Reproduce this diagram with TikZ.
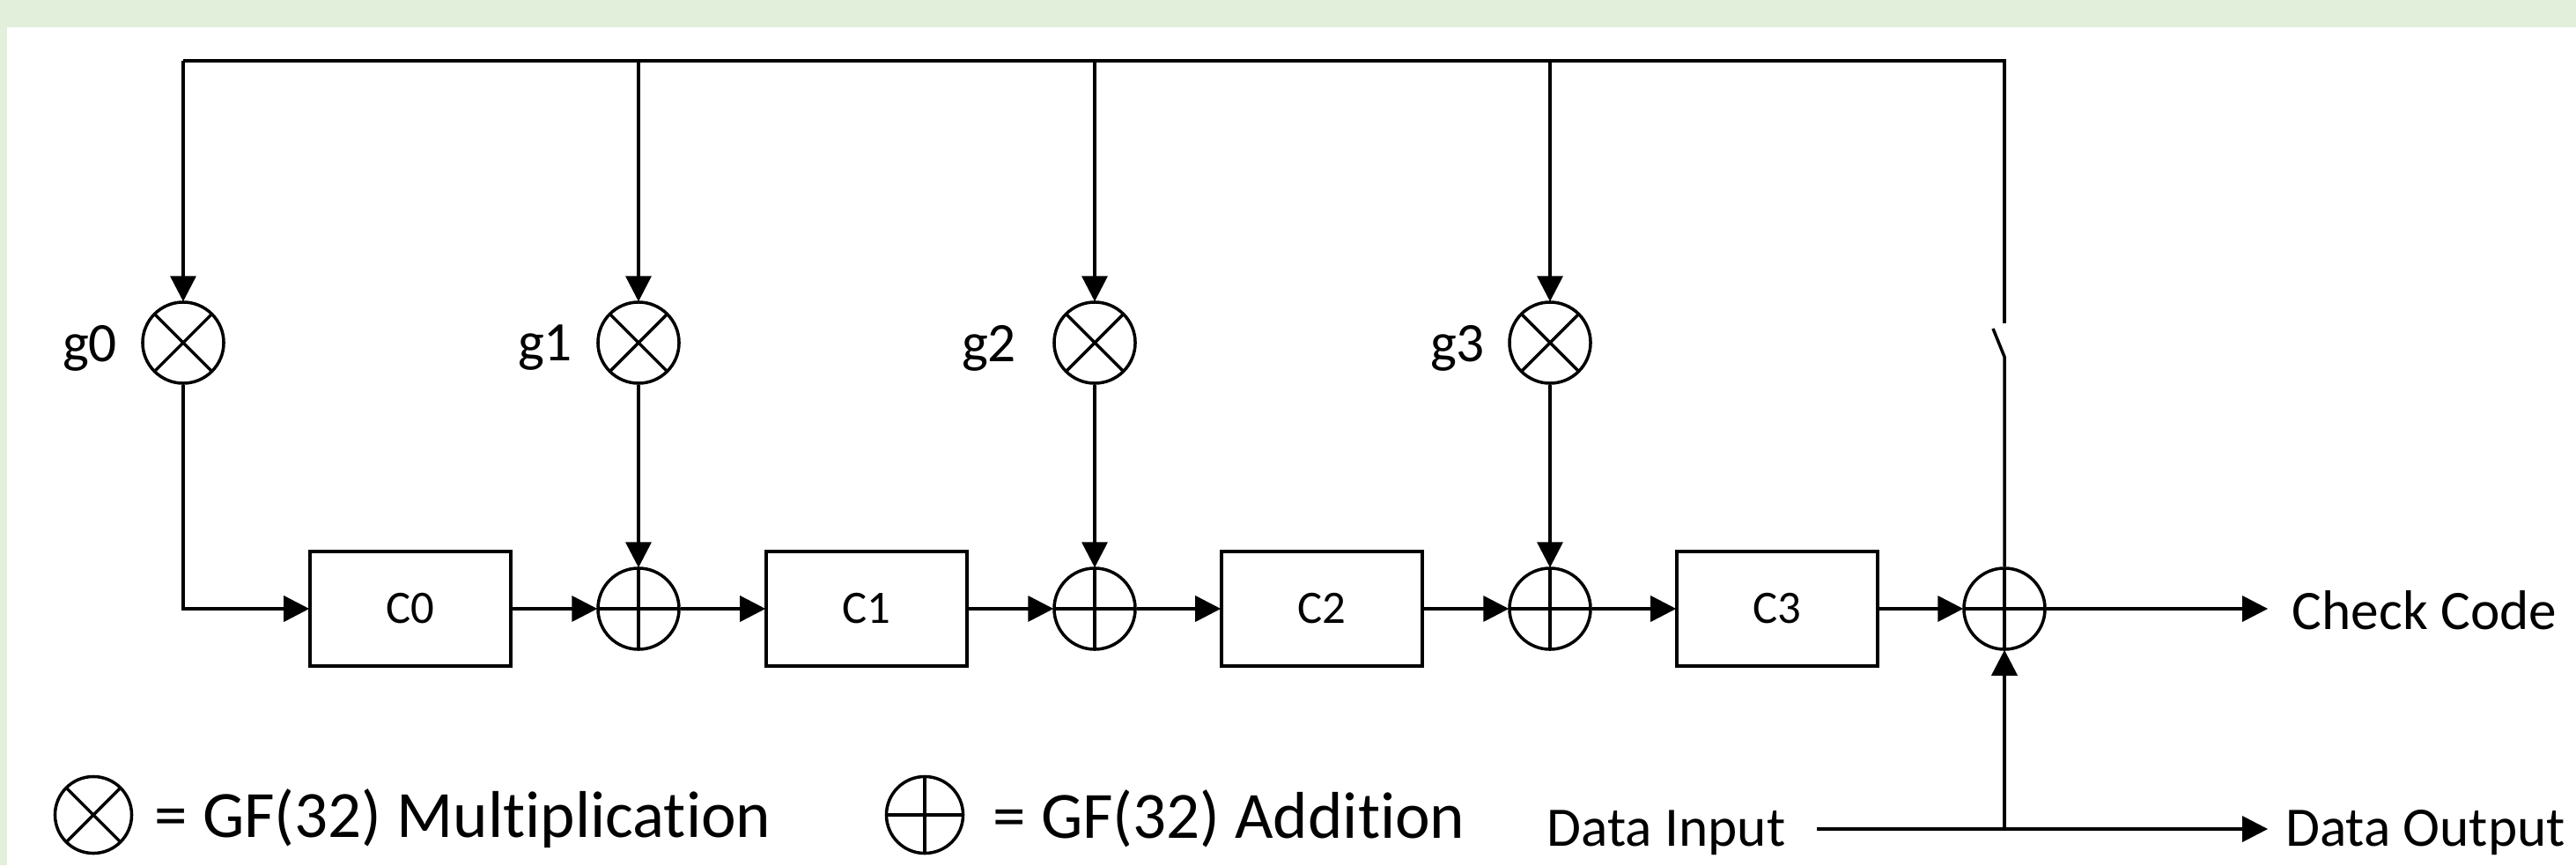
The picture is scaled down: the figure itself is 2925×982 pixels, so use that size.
\documentclass[tikz,border=0pt]{standalone}
\usepackage{fontspec}
\setmainfont[Ligatures={NoCommon}]{Carlito}
\usepackage{xcolor}
\usetikzlibrary{arrows.meta}
\definecolor{pagegreen}{HTML}{E2EFDA}
\tikzset{
    wire/.style={line width=1pt},
    arrowwire/.style={wire, -{Triangle[length=0.29cm, width=0.29cm]}, shorten >=-0.3pt},
    reg/.style={draw, line width=1pt, minimum width=2.28cm, minimum height=1.30cm, inner sep=0pt, font=\fontsize{15}{18}\selectfont},
    mul/.style={circle, draw, line width=1pt, minimum size=0.92cm, inner sep=0pt,
        path picture={\draw[line width=1pt] (path picture bounding box.north west) -- (path picture bounding box.south east)
            (path picture bounding box.north east) -- (path picture bounding box.south west);}},
    add/.style={circle, draw, line width=1pt, minimum size=0.92cm, inner sep=0pt,
        path picture={\draw[line width=1pt] (path picture bounding box.north) -- (path picture bounding box.south)
            (path picture bounding box.east) -- (path picture bounding box.west);}},
    lab/.style={inner sep=0pt, font=\fontsize{18}{22}\selectfont},
    legend/.style={inner sep=0pt, anchor=west, font=\fontsize{21.35}{26}\selectfont},
}

\begin{document}
\begin{tikzpicture}[x=0.01cm, y=-0.01cm]
    \fill[pagegreen] (0,0) rectangle (2925,982);
    \fill[white] (8,31) rectangle (2925,982);
    \useasboundingbox (0,0) rectangle (2925,982);

    \coordinate (top0) at (208,69);
    \coordinate (top1) at (725,69);
    \coordinate (top2) at (1243,69);
    \coordinate (top3) at (1760,69);
    \coordinate (top4) at (2276,69);
    \coordinate (swtop) at (2276,367);
    \coordinate (swblade) at (2263,373);
    \coordinate (swbot) at (2276,405);
    \coordinate (corner) at (208,691);
    \coordinate (tap) at (2276,941);
    \coordinate (instart) at (2063,941);

    \node[mul] (m0) at (208,389) {};
    \node[mul] (m1) at (725,389) {};
    \node[mul] (m2) at (1243,389) {};
    \node[mul] (m3) at (1760,389) {};
    \node[lab] (g0) at (102,395) {g0};
    \node[lab] (g1) at (619,395) {g1};
    \node[lab] (g2) at (1123,395) {g2};
    \node[lab] (g3) at (1655,395) {g3};

    \node[reg] (c0) at (466,691) {C0};
    \node[reg] (c1) at (984,691) {C1};
    \node[reg] (c2) at (1501,691) {C2};
    \node[reg] (c3) at (2018,691) {C3};
    \node[add] (a0) at (725,691) {};
    \node[add] (a1) at (1243,691) {};
    \node[add] (a2) at (1760,691) {};
    \node[add] (a3) at (2276,691) {};

    \node[lab] (check) at (2753,693) {Check Code};
    \node[lab] (din) at (1892,945) {Data Input};
    \node[lab] (dout) at (2754,945) {Data Output};
    \coordinate (checkend) at (2574,691);
    \coordinate (doutend) at (2574,941);

    \draw[wire] (top0) -- (top4) -- (swtop); % feedback bus
    \draw[wire] (swblade) -- (swbot) -- (a3.north);
    \draw[arrowwire] (top0) -- (m0.north);
    \draw[arrowwire] (top1) -- (m1.north);
    \draw[arrowwire] (top2) -- (m2.north);
    \draw[arrowwire] (top3) -- (m3.north);
    \draw[arrowwire] (m0.south) -- (corner) -- (c0.west);
    \draw[arrowwire] (m1.south) -- (a0.north);
    \draw[arrowwire] (m2.south) -- (a1.north);
    \draw[arrowwire] (m3.south) -- (a2.north);

    \draw[arrowwire] (c0.east) -- (a0.west);
    \draw[arrowwire] (a0.east) -- (c1.west);
    \draw[arrowwire] (c1.east) -- (a1.west);
    \draw[arrowwire] (a1.east) -- (c2.west);
    \draw[arrowwire] (c2.east) -- (a2.west);
    \draw[arrowwire] (a2.east) -- (c3.west);
    \draw[arrowwire] (c3.east) -- (a3.west);
    \draw[arrowwire] (a3.east) -- (checkend);
    \draw[arrowwire] (instart) -- (doutend);
    \draw[arrowwire] (tap) -- (a3.south);

    \node[mul, minimum size=0.87cm] (keymul) at (106,925) {};
    \node[legend] (keymultext) at (175,929) {= GF(32) Multiplication};
    \node[add, minimum size=0.87cm] (keyadd) at (1050,925) {};
    \node[legend] (keyaddtext) at (1127,929) {= GF(32) Addition};
\end{tikzpicture}
\end{document}
